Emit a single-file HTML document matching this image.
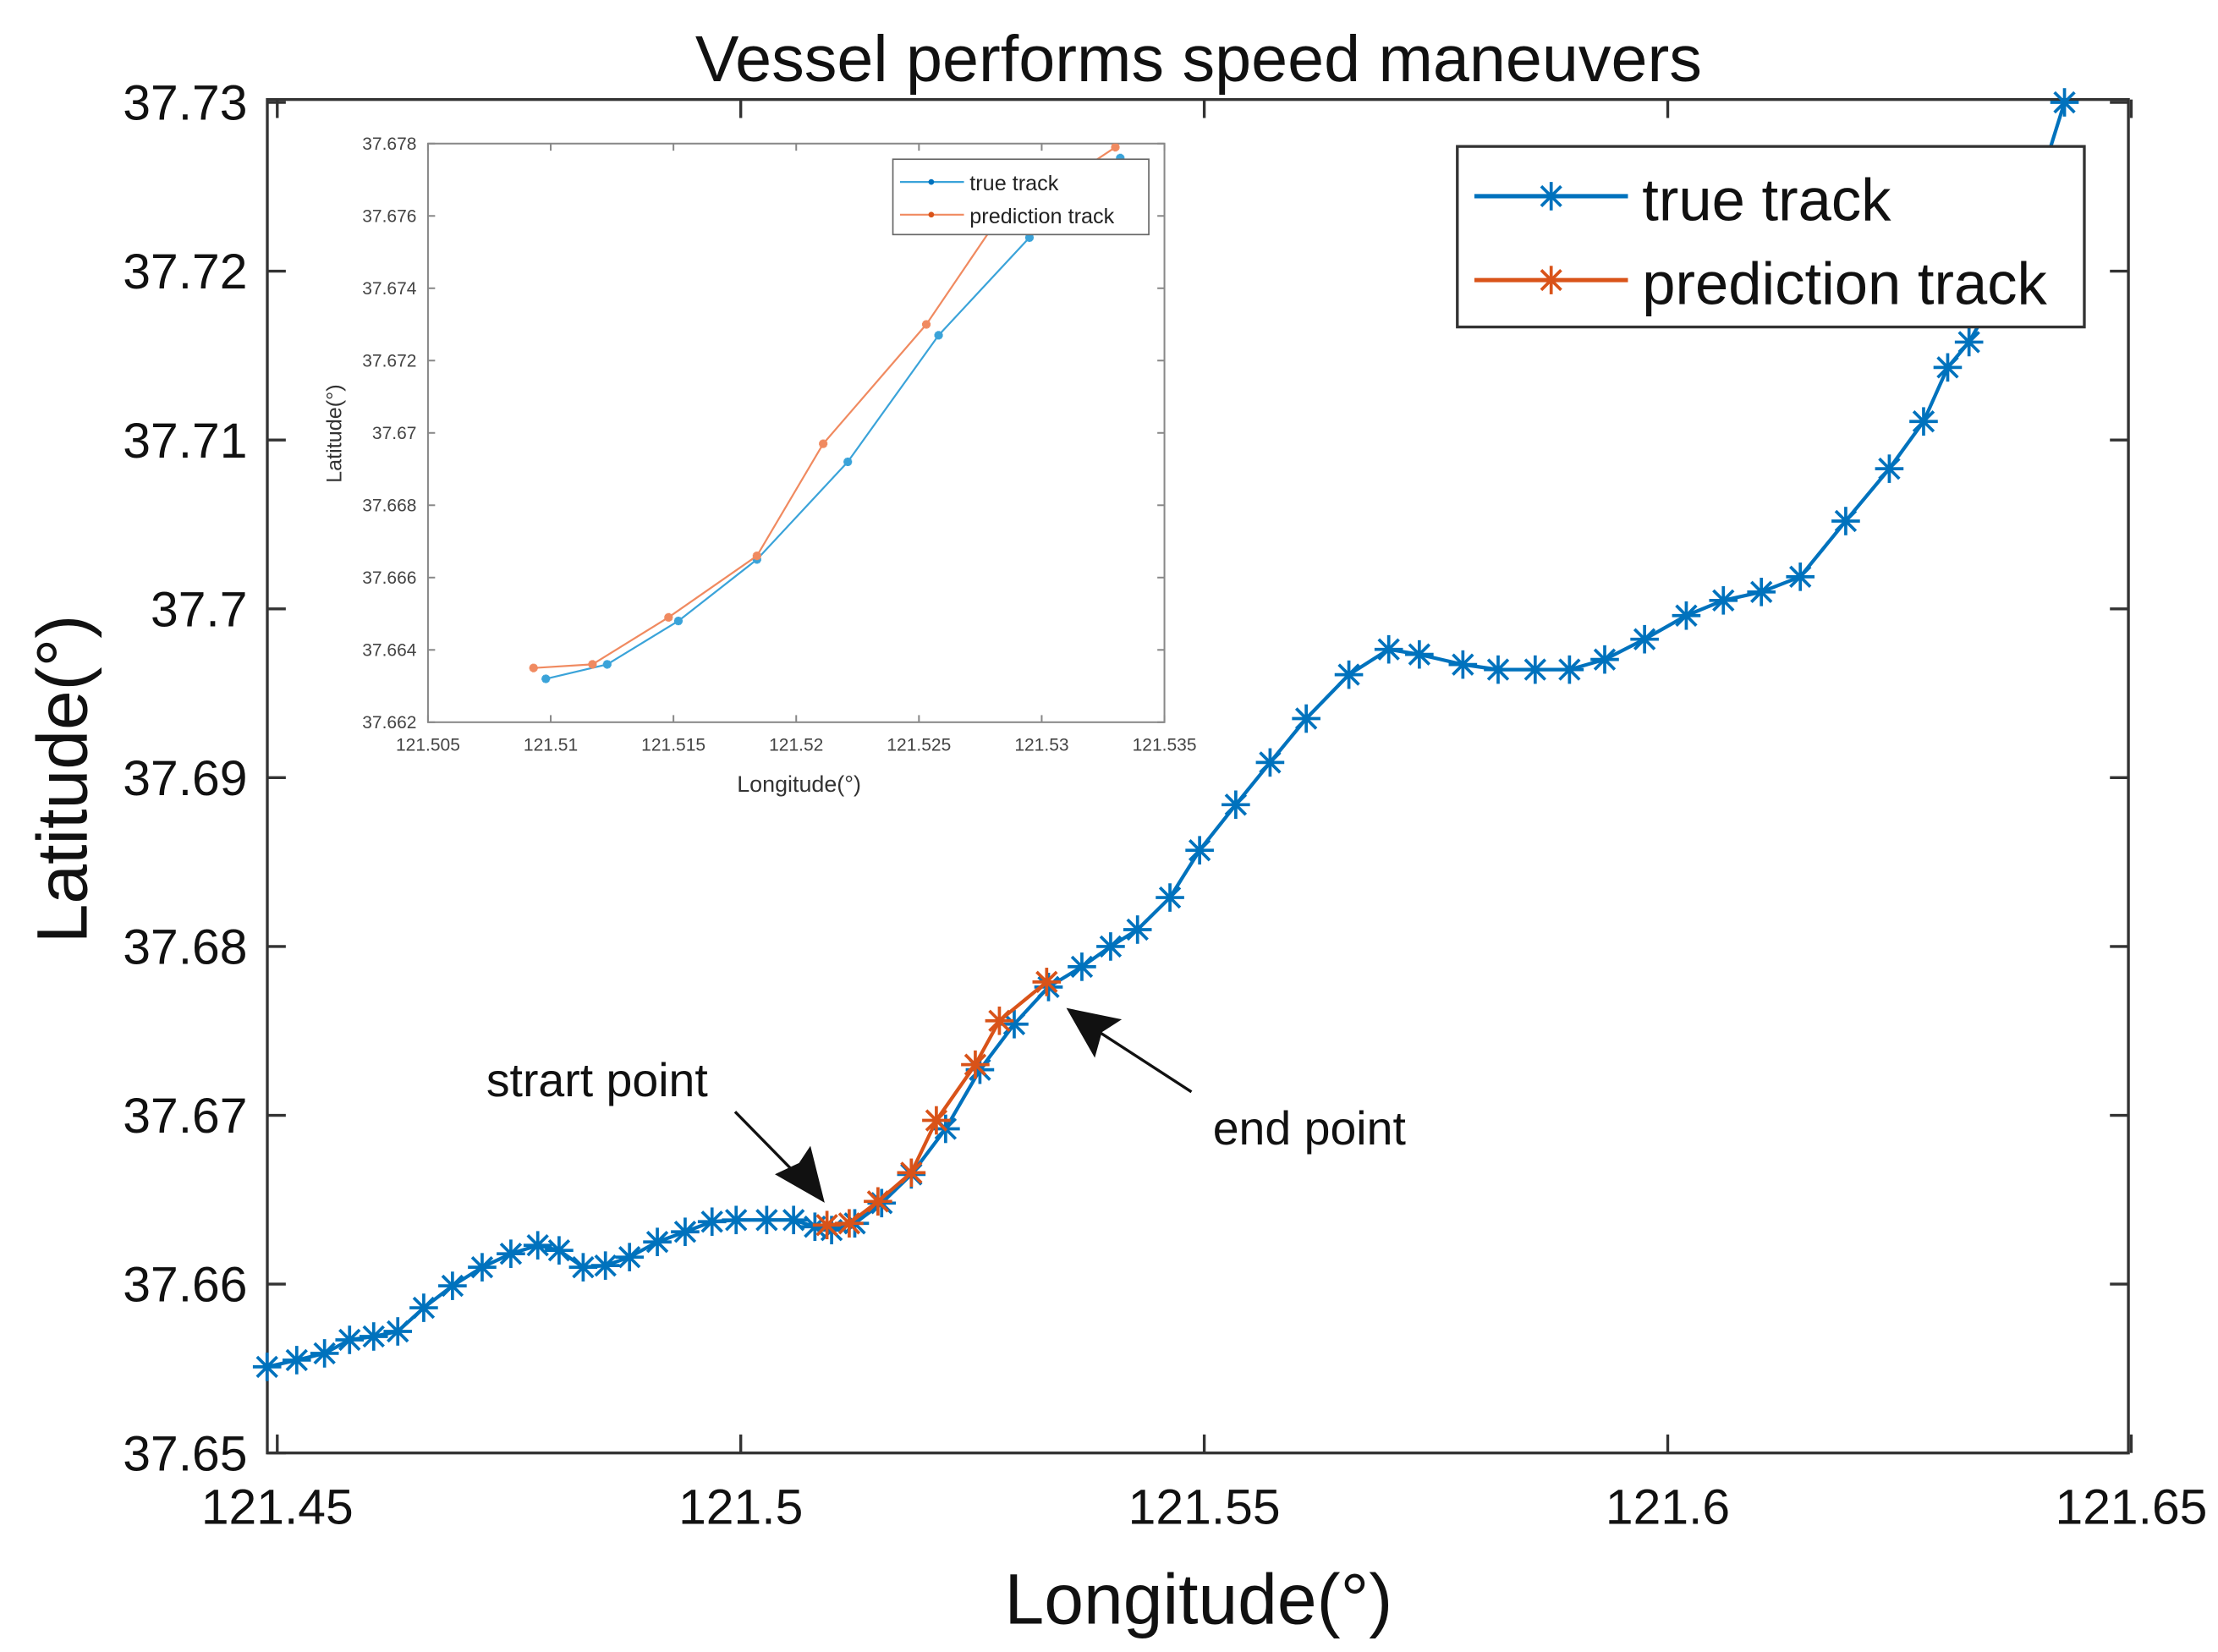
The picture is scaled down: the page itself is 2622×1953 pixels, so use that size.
<!DOCTYPE html>
<html><head><meta charset="utf-8"><style>
html,body{margin:0;padding:0;background:#fff;}
svg{display:block;font-family:"Liberation Sans",Arial,sans-serif;}
</style></head><body>
<svg id="chart" width="2622" height="1953" viewBox="0 0 1560 1162" xmlns="http://www.w3.org/2000/svg">
<rect width="1560" height="1162" fill="#fff"/>
<text x="843" y="57" font-size="46" text-anchor="middle" fill="#111">Vessel performs speed maneuvers</text>
<g id="main"></g>
<g id="inset"></g>
<g id="legend">
  <rect x="1025" y="103" width="441" height="127" fill="#fff" stroke="#333" stroke-width="2"/>
  <line x1="1037" y1="138" x2="1145" y2="138" stroke="#0072BD" stroke-width="3"/>
  <line x1="1037" y1="197" x2="1145" y2="197" stroke="#D95319" stroke-width="3"/>
  <g stroke="#0072BD" stroke-width="2.2"><line x1="1091" y1="128" x2="1091" y2="148"/><line x1="1081" y1="138" x2="1101" y2="138"/><line x1="1084" y1="131" x2="1098" y2="145"/><line x1="1098" y1="131" x2="1084" y2="145"/></g>
  <g stroke="#D95319" stroke-width="2.2"><line x1="1091" y1="187" x2="1091" y2="207"/><line x1="1081" y1="197" x2="1101" y2="197"/><line x1="1084" y1="190" x2="1098" y2="204"/><line x1="1098" y1="190" x2="1084" y2="204"/></g>
  <text x="1155" y="155" font-size="42" fill="#111">true track</text>
  <text x="1155" y="214" font-size="42" fill="#111">prediction track</text>
</g>
<g fill="#111">
  <text x="342" y="771" font-size="33">strart point</text>
  <line x1="517" y1="782" x2="566" y2="832" stroke="#111" stroke-width="2"/>
  <polygon points="580,846 545,826 562,818 570,806"/>
  <text x="853" y="805" font-size="33">end point</text>
  <line x1="838" y1="768" x2="764" y2="720" stroke="#111" stroke-width="2"/>
  <polygon points="750,709 789,717 775,726 770,744"/>
</g>
</svg>
<script>
const trueLon=[121.4489,121.4521,121.4551,121.4578,121.4604,121.4630,121.4658,121.4689,121.4721,121.4752,121.4781,121.4804,121.4830,121.4854,121.4880,121.4910,121.4940,121.4969,121.4995,121.5028,121.5057,121.5080,121.5098,121.5123,121.5152,121.5184,121.5221,121.5258,121.5295,121.5332,121.5368,121.5399,121.5428,121.5463,121.5495,121.5534,121.5571,121.5610,121.5656,121.5699,121.5732,121.5779,121.5817,121.5857,121.5894,121.5932,121.5975,121.6020,121.6060,121.6101,121.6143,121.6192,121.6239,121.6276,121.6302,121.6325,121.6356,121.6386,121.6428];
const trueLat=[37.6551,37.6555,37.6559,37.6567,37.6569,37.6572,37.6586,37.6599,37.6610,37.6618,37.6623,37.6620,37.6610,37.6611,37.6616,37.6625,37.6631,37.6637,37.6638,37.6638,37.6638,37.6634,37.6632,37.6636,37.6648,37.6665,37.6692,37.6727,37.6754,37.6776,37.6788,37.6800,37.6810,37.6829,37.6857,37.6884,37.6909,37.6935,37.6961,37.6976,37.6973,37.6967,37.6964,37.6964,37.6964,37.6970,37.6982,37.6996,37.7005,37.7010,37.7019,37.7052,37.7083,37.7111,37.7143,37.7158,37.7188,37.7226,37.7300];
const predLon=[121.5093,121.5117,121.5148,121.5184,121.5211,121.5253,121.5279,121.5330];
const predLat=[37.6635,37.6636,37.6649,37.6666,37.6697,37.6730,37.6756,37.6779];
const insetTrueLon=[121.5098,121.5123,121.5152,121.5184,121.5221,121.5258,121.5295,121.5332];
const insetTrueLat=[37.6632,37.6636,37.6648,37.6665,37.6692,37.6727,37.6754,37.6776];
const mainXTicks=[121.45,121.5,121.55,121.6,121.65];
const mainXLabels=["121.45","121.5","121.55","121.6","121.65"];
const mainYTicks=[37.65,37.66,37.67,37.68,37.69,37.7,37.71,37.72,37.73];
const mainYLabels=["37.65","37.66","37.67","37.68","37.69","37.7","37.71","37.72","37.73"];
const insetXTicks=[121.505,121.51,121.515,121.52,121.525,121.53,121.535];
const insetXLabels=["121.505","121.51","121.515","121.52","121.525","121.53","121.535"];
const insetYTicks=[37.662,37.664,37.666,37.668,37.67,37.672,37.674,37.676,37.678];
const insetYLabels=["37.662","37.664","37.666","37.668","37.67","37.672","37.674","37.676","37.678"];

const NS="http://www.w3.org/2000/svg";
function mk(tag,attrs,parent){const e=document.createElementNS(NS,tag);for(const k in attrs)e.setAttribute(k,attrs[k]);parent.appendChild(e);return e;}

function drawAxes(g,box,xs,ys,xt,xl,yt,yl,opt){
  mk('rect',{x:box.l,y:box.t,width:box.r-box.l,height:box.b-box.t,fill:'#fff',stroke:opt.axisColor,'stroke-width':opt.axisW},g);
  xt.forEach((v,i)=>{const x=xs(v);
    mk('line',{x1:x,y1:box.b,x2:x,y2:box.b-opt.tick,stroke:opt.axisColor,'stroke-width':opt.axisW},g);
    mk('line',{x1:x,y1:box.t,x2:x,y2:box.t+opt.tick,stroke:opt.axisColor,'stroke-width':opt.axisW},g);
    const t=mk('text',{x:x,y:box.b+opt.xlOff,'font-size':opt.fs,'text-anchor':'middle',fill:opt.textColor},g);
    
    
    t.textContent=xl[i];});
  yt.forEach((v,i)=>{const y=ys(v);
    mk('line',{x1:box.l,y1:y,x2:box.l+opt.tick,y2:y,stroke:opt.axisColor,'stroke-width':opt.axisW},g);
    mk('line',{x1:box.r,y1:y,x2:box.r-opt.tick,y2:y,stroke:opt.axisColor,'stroke-width':opt.axisW},g);
    const t=mk('text',{x:box.l-opt.ylOff,y:y+opt.fs*0.35,'font-size':opt.fs,'text-anchor':'end',fill:opt.textColor},g);
    
    
    t.textContent=yl[i];});
}
function star(g,x,y,r,color,w){
  for(let k=0;k<4;k++){const a=k*Math.PI/4+Math.PI/2;
    mk('line',{x1:x-r*Math.cos(a),y1:y-r*Math.sin(a),x2:x+r*Math.cos(a),y2:y+r*Math.sin(a),stroke:color,'stroke-width':w},g);}
}
function series(g,xs,ys,lon,lat,color,lw,mr,mw,name){
  const sg=mk('g',{},g);
  
  
  const pts=lon.map((v,i)=>xs(v)+','+ys(lat[i])).join(' ');
  mk('polyline',{points:pts,fill:'none',stroke:color,'stroke-width':lw,'stroke-linejoin':'round'},sg);
  lon.forEach((v,i)=>star(sg,xs(v),ys(lat[i]),mr,color,mw));
}

// main
const mg=document.getElementById('main');


const mb={l:188,r:1497,t:70,b:1022};
const mxs=v=>195+(v-121.45)/0.05*326;
const mys=v=>72+(37.73-v)/0.01*118.75;
drawAxes(mg,mb,mxs,mys,mainXTicks,mainXLabels,mainYTicks,mainYLabels,{axisColor:'#333',axisW:2,tick:13,fs:35,xlOff:50,ylOff:14,textColor:'#111'});
const mc=mk('g',{},mg);
series(mc,mxs,mys,trueLon,trueLat,'#0072BD',2.5,10,2.2,'true-track-series');
series(mc,mxs,mys,predLon,predLat,'#D95319',2.5,10,2.2,'prediction-track-series');
let t=mk('text',{x:843,y:1142,'font-size':50,'text-anchor':'middle',fill:'#111'},mg);


t.textContent='Longitude(°)';
t=mk('text',{x:0,y:0,'font-size':50,'text-anchor':'middle',fill:'#111',transform:'translate(61,548) rotate(-90)'},mg);


t.textContent='Latitude(°)';

// inset
const ig=document.getElementById('inset');


const ib={l:301,r:819,t:101,b:508};
const ixs=v=>ib.l+(v-121.505)/0.03*(ib.r-ib.l);
const iys=v=>ib.b-(v-37.662)/0.016*(ib.b-ib.t);
drawAxes(ig,ib,ixs,iys,insetXTicks,insetXLabels,insetYTicks,insetYLabels,{axisColor:'#888',axisW:1.2,tick:5,fs:12.5,xlOff:20,ylOff:8,textColor:'#444'});
const clip=mk('clipPath',{id:'ic'},ig);
mk('rect',{x:ib.l,y:ib.t,width:ib.r-ib.l,height:ib.b-ib.t},clip);
const ic=mk('g',{'clip-path':'url(#ic)'},ig);
series(ic,ixs,iys,insetTrueLon,insetTrueLat,'#3aa3d9',1.3,3,2,'inset-true-track');
series(ic,ixs,iys,predLon,predLat,'#f08a60',1.3,3,2,'inset-prediction-track');
t=mk('text',{x:562,y:557,'font-size':16,'text-anchor':'middle',fill:'#333'},ig);


t.textContent='Longitude(°)';
t=mk('text',{x:0,y:0,'font-size':15,'text-anchor':'middle',fill:'#333',transform:'translate(240,305) rotate(-90)'},ig);


t.textContent='Latitude(°)';
const il=mk('g',{},ig);


mk('rect',{x:628,y:112,width:180,height:53,fill:'#fff',stroke:'#666','stroke-width':1},il);
mk('line',{x1:633,y1:128,x2:678,y2:128,stroke:'#3aa3d9','stroke-width':1.3},il);
mk('circle',{cx:655,cy:128,r:2,fill:'#0072BD'},il);
mk('line',{x1:633,y1:151,x2:678,y2:151,stroke:'#f08a60','stroke-width':1.3},il);
mk('circle',{cx:655,cy:151,r:2,fill:'#D95319'},il);
t=mk('text',{x:682,y:134,'font-size':15,fill:'#222'},il);


t.textContent='true track';
t=mk('text',{x:682,y:157,'font-size':15,fill:'#222'},il);


t.textContent='prediction track';
</script>
</body></html>
